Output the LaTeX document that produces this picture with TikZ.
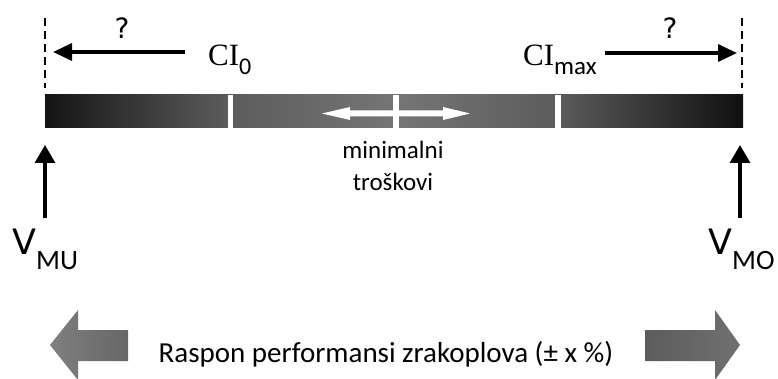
\documentclass[tikz,border=0pt]{standalone}
\usepackage{fontspec}
\setmainfont{Carlito}
\newfontfamily\verdanafont{DejaVu Sans}
\newfontfamily\cambriafont{Liberation Serif}
\usetikzlibrary{arrows.meta}
\newcommand{\lowsub}[3][9pt]{\raisebox{-#1}{\normalfont\fontsize{#2}{#2}\selectfont #3}}

\begin{document}
\begin{tikzpicture}[line cap=round,line join=round,>={Triangle[length=19pt,width=17pt]},x=1pt,y=-1pt,
		blackarrow/.style={->,line width=3.3pt,line cap=butt},
		limitline/.style={line width=2.2pt,dash pattern=on 8pt off 5pt,line cap=butt},
		gap/.style={fill=white},
		txt/.style={inner sep=0pt,font=\fontsize{25}{25}\selectfont}]
	\useasboundingbox (0,0) rectangle (778,379);
	% bar
	\shade[left color=black!92,right color=black!64] (45,95) rectangle (229,128);
	\shade[left color=black!64,right color=black!54] (229,95) rectangle (396,128);
	\shade[left color=black!54,right color=black!64] (396,95) rectangle (558,128);
	\shade[left color=black!64,right color=black!94] (558,95) rectangle (743,128);
	\fill[gap] (228,95) rectangle (233,128);
	\fill[gap] (555,95) rectangle (561,128);
	\fill[gap] (393,95) rectangle (399,128);
	\fill[gap] (322,113.5)-- (350,107)-- (350,110.5)-- (443,110.5)-- (443,107)-- (470,113.5)-- (443,120)-- (443,116.5)-- (350,116.5)-- (350,120)-- cycle;
	% limits
	\coordinate (dL0) at (45,18);
	\coordinate (dL1) at (45,88);
	\coordinate (dR0) at (742,18);
	\coordinate (dR1) at (742,88);
	\draw [limitline] (dL0)-- (dL1);
	\draw [limitline] (dR0)-- (dR1);
	\coordinate (lTip) at (53,52);
	\coordinate (rTip) at (737,53);
	\coordinate (muTip) at (45,145);
	\coordinate (moTip) at (740,145);
	% labels
	\node[anchor=base west,inner sep=0pt,font=\cambriafont\fontsize{31}{31}\selectfont] (ci0) at (208,66) {CI\lowsub{24}{0}};
	\node[anchor=base west,inner sep=0pt,font=\cambriafont\fontsize{31}{31}\selectfont] (cimax) at (523,66) {CI\lowsub{25}{max}};
	\node[inner sep=0pt,font=\verdanafont\fontsize{28}{28}\selectfont] (q0) at (122,28) {?};
	\node[inner sep=0pt,font=\verdanafont\fontsize{28}{28}\selectfont] (q1) at (670,28) {?};
	\node[anchor=base west,inner sep=0pt,font=\verdanafont\fontsize{35}{35}\selectfont] (vmu) at (12,254) {V\lowsub[15pt]{28}{MU}};
	\node[anchor=base west,inner sep=0pt,font=\verdanafont\fontsize{35}{35}\selectfont] (vmo) at (708,254) {V\lowsub[15pt]{28}{MO}};
	\node[txt,anchor=base] (minimal) at (393,159) {minimalni};
	\node[txt,anchor=base] (troskovi) at (393,191) {troškovi};
	\node[inner sep=0pt,anchor=base,font=\fontsize{29}{29}\selectfont] (raspon) at (386,362) {Raspon performansi zrakoplova (± x \%)};
	% arrows
	\draw [blackarrow,shorten <=23pt] (ci0.west |- lTip)-- (lTip);
	\draw [blackarrow,shorten <=8pt] (cimax.east |- rTip)-- (rTip);
	\draw [blackarrow,>={Triangle[length=18pt,width=20pt]},shorten <=10pt] (vmu.north -| muTip)-- (muTip);
	\draw [blackarrow,>={Triangle[length=18pt,width=20pt]},shorten <=10pt] (vmo.north -| moTip)-- (moTip);
	% range arrows
	\shade[left color=black!50,right color=black!60] (50,345)-- (78,310)-- (78,330)-- (128,330)-- (128,361)-- (78,361)-- (78,380)-- cycle;
	\shade[left color=black!64,right color=black!56] (645,330)-- (715,330)-- (715,310)-- (740,345)-- (715,380)-- (715,361)-- (645,361)-- cycle;
\end{tikzpicture}
\end{document}
